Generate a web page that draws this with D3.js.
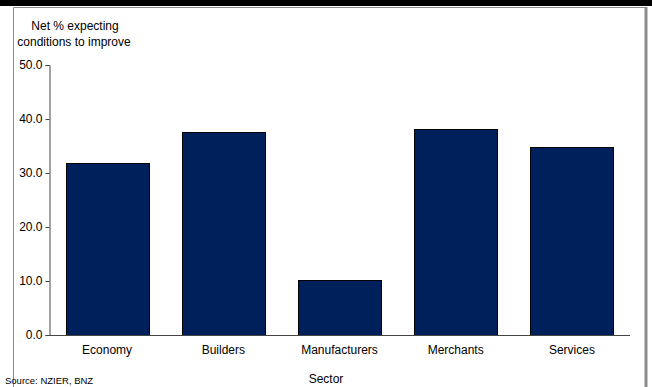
<!DOCTYPE html>
<html>
<head>
<meta charset="utf-8">
<script src="https://cdn.jsdelivr.net/npm/d3@7"></script>
<style>
  body { margin: 0; background: #fff; }
  text { font-family: "Liberation Sans", Arial, sans-serif; fill: #000; }
</style>
</head>
<body>
<div id="chart"></div>
<script>
// DATA
var sectors = ['Economy', 'Builders', 'Manufacturers', 'Merchants', 'Services'];
var netExpecting = [31.8, 37.6, 10.1, 38.1, 34.9];
var yTicks = [0, 10, 20, 30, 40, 50];

var width = 652, height = 387;
var plot = { left: 49, right: 630, top: 65, bottom: 335 };

var svg = d3.select('#chart').append('svg')
   .attr('width', width)
   .attr('height', height);

// TOP BAND + FRAME
svg.append('rect').attr('x', 0).attr('y', 0).attr('width', width).attr('height', 6).attr('fill', '#000');
svg.append('path')
   .attr('d', 'M13.5,' + height + 'V7.5H645.5V' + height)
   .attr('fill', 'none').attr('stroke', '#8c8c8c').attr('stroke-width', 1);
svg.append('line').attr('x1', 646).attr('x2', 646).attr('y1', 7).attr('y2', height)
   .attr('stroke', '#8c8c8c').attr('stroke-width', 3);

// SCALES
var x = d3.scaleBand()
   .domain(sectors)
   .range([plot.left, plot.right])
   .paddingInner(0.285)
   .paddingOuter(0.1425);

var y = d3.scaleLinear()
   .domain([0, 50])
   .range([plot.bottom, plot.top]);

// BARS
svg.selectAll('.bar').data(netExpecting).enter()
   .append('rect')
   .attr('x', (d, i) => Math.round(x(sectors[i])) + 0.5)
   .attr('y', d => Math.round(y(d)) + 0.5)
   .attr('width', Math.round(x.bandwidth()))
   .attr('height', d => Math.round(y(0)) - Math.round(y(d)))
   .attr('fill', '#00205b')
   .attr('stroke', '#000')
   .attr('stroke-width', 1);

// Y AXIS
var yAxis = svg.append('g')
   .attr('transform', 'translate(' + (plot.left + 0.5) + ',0)')
   .call(d3.axisLeft(y).tickValues(yTicks).tickFormat(d3.format('.1f')).tickSize(4).tickSizeOuter(4));
yAxis.select('.domain').attr('stroke', '#444');
yAxis.selectAll('.tick line').attr('stroke', '#444');
yAxis.selectAll('.tick text')
   .attr('x', -7)
   .style('font-size', '12px')
   .style('font-family', '"Liberation Sans", Arial, sans-serif');

// X AXIS
var xAxis = svg.append('g')
   .attr('transform', 'translate(0,' + (plot.bottom + 0.5) + ')')
   .call(d3.axisBottom(x).tickSize(0).tickSizeOuter(0));
xAxis.select('.domain').attr('stroke', '#444').attr('d', 'M' + plot.left + ',0H' + plot.right);
xAxis.selectAll('.tick text')
   .attr('y', 10)
   .style('font-size', '12px')
   .style('font-family', '"Liberation Sans", Arial, sans-serif');

// TITLES
svg.append('text').attr('x', 75).attr('y', 30).attr('text-anchor', 'middle')
   .style('font-size', '12px').text('Net % expecting');
svg.append('text').attr('x', 74).attr('y', 46).attr('text-anchor', 'middle')
   .style('font-size', '12px').text('conditions to improve');
svg.append('text').attr('x', 326).attr('y', 383).attr('text-anchor', 'middle')
   .style('font-size', '12px').text('Sector');
svg.append('text').attr('x', 5).attr('y', 384)
   .style('font-size', '9.5px').text('Source: NZIER, BNZ');
</script>
</body>
</html>
